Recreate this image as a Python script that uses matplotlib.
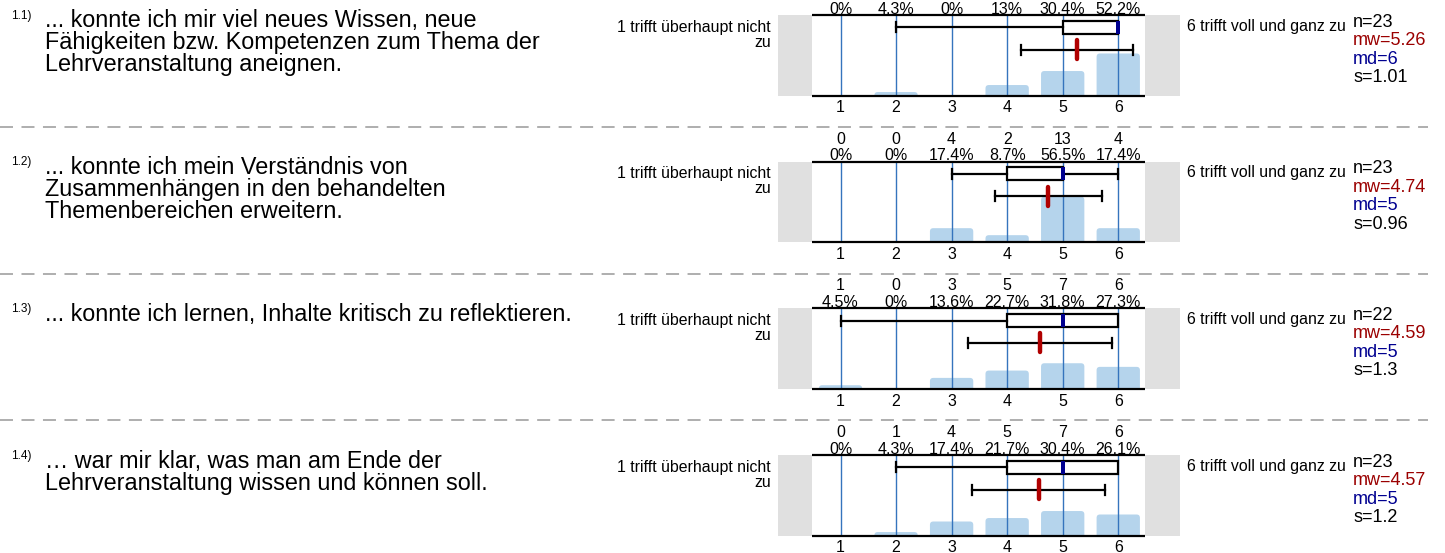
import matplotlib
matplotlib.use("Agg")
import matplotlib.pyplot as plt
from matplotlib.patches import FancyBboxPatch, Rectangle

plt.rcParams['font.family'] = ['Liberation Sans', 'DejaVu Sans']

# --- data ---
item_ids = ['1.1)', '1.2)', '1.3)', '1.4)']
questions = [
    ['... konnte ich mir viel neues Wissen, neue',
     'Fähigkeiten bzw. Kompetenzen zum Thema der',
     'Lehrveranstaltung aneignen.'],
    ['... konnte ich mein Verständnis von',
     'Zusammenhängen in den behandelten',
     'Themenbereichen erweitern.'],
    ['... konnte ich lernen, Inhalte kritisch zu reflektieren.'],
    ['… war mir klar, was man am Ende der',
     'Lehrveranstaltung wissen und können soll.'],
]
scale = [1, 2, 3, 4, 5, 6]
left_label = ['1 trifft überhaupt nicht', 'zu']
right_label = '6 trifft voll und ganz zu'

counts = [[0, 1, 0, 3, 7, 12],
          [0, 0, 4, 2, 13, 4],
          [1, 0, 3, 5, 7, 6],
          [0, 1, 4, 5, 7, 6]]
percents = [[0, 4.3, 0, 13, 30.4, 52.2],
            [0, 0, 17.4, 8.7, 56.5, 17.4],
            [4.5, 0, 13.6, 22.7, 31.8, 27.3],
            [0, 4.3, 17.4, 21.7, 30.4, 26.1]]
n_vals = [23, 23, 22, 23]
means = [5.26, 4.74, 4.59, 4.57]
medians = [6, 5, 5, 5]
sds = [1.01, 0.96, 1.3, 1.2]
# lower whisker, lower quartile, upper quartile, upper whisker
box_stats = [(2, 5, 6, 6), (3, 4, 5, 6), (1, 4, 6, 6), (2, 4, 6, 6)]

# --- layout (pixels) ---
W, H = 1445, 553
fig = plt.figure(figsize=(W / 100, H / 100), dpi=100)


def fx(x):
    return x / W


def fy(y):
    return 1 - y / H


x_one, x_step = 840.5, 55.55      # pixel of value 1, pixels per step
ax_l, ax_r = 778, 1180            # incl. grey end boxes
in_l, in_r = 812, 1145            # white plot area
ph = 80.5                         # panel height
tops = [15 + i * 146.67 for i in range(4)]


def val(px):
    return 1 + (px - x_one) / x_step


def yunits(px):
    return px / ph * 100


bar_col = '#b5d4ec'
grid_col = '#3574bd'
grey = '#e0e0e0'
dark_red = '#9b0000'
navy = '#000090'

for i, top in enumerate(tops):
    ax = fig.add_axes([fx(ax_l), fy(top + ph), (ax_r - ax_l) / W, ph / H])
    ax.set_xlim(val(ax_l), val(ax_r))
    ax.set_ylim(0, 100)
    ax.axis('off')
    lo, hi = val(in_l), val(in_r)
    ax.axvspan(val(ax_l), lo, color=grey, lw=0)
    ax.axvspan(hi, val(ax_r), color=grey, lw=0)

    # bars with rounded tops
    aspect = (100 / ph) * x_step
    for v, p in zip(scale, percents[i]):
        if p <= 0:
            continue
        ax.add_patch(FancyBboxPatch((v - 0.39, -10), 0.78, p + 10,
                                    boxstyle='round,pad=0,rounding_size=0.06',
                                    mutation_aspect=aspect, fc=bar_col, ec='none', zorder=1))
    ax.vlines(scale, 0, 100, color=grid_col, lw=1.0, zorder=2)
    ax.hlines([0, 100], lo, hi, color='black', lw=1.6, zorder=4, clip_on=False)

    # box plot
    wl, q1, q3, wh = box_stats[i]
    yb = 100 - yunits(12.3)
    half = yunits(6.5)
    cap = yunits(5)
    ax.add_patch(Rectangle((q1, yb - half), q3 - q1, 2 * half, fc='white', ec='black', lw=1.6, zorder=5))
    if wl < q1:
        ax.plot([wl, q1], [yb, yb], color='black', lw=1.6, zorder=5)
        ax.plot([wl, wl], [yb - cap, yb + cap], color='black', lw=1.6, zorder=5)
    if wh > q3:
        ax.plot([q3, wh], [yb, yb], color='black', lw=1.6, zorder=5)
        ax.plot([wh, wh], [yb - cap, yb + cap], color='black', lw=1.6, zorder=5)
    ax.add_patch(Rectangle((medians[i] - 0.036, yb - half), 0.072, 2 * half,
                           fc=navy, ec='none', zorder=6))

    # mean +- sd
    ym = 100 - yunits(34.5)
    m, s = means[i], sds[i]
    ax.plot([m - s, m + s], [ym, ym], color='black', lw=1.6, zorder=5)
    for e in (m - s, m + s):
        ax.plot([e, e], [ym - cap, ym + cap], color='black', lw=1.6, zorder=5)
    ax.plot([m, m], [ym - yunits(9.5), ym + yunits(9.5)], color='#b00000', lw=3.2,
            solid_capstyle='round', zorder=7)

    # labels above and below
    for v, p, c in zip(scale, percents[i], counts[i]):
        ax.annotate(f'{p:g}%', (v, 100), xytext=(0, 1.5), textcoords='offset pixels',
                    ha='center', va='baseline', fontsize=11.5, annotation_clip=False)
        if i > 0:
            ax.annotate(str(c), (v, 100), xytext=(0, 18), textcoords='offset pixels',
                        ha='center', va='baseline', fontsize=11.5, annotation_clip=False)
        ax.annotate(str(v), (v, 0), xytext=(0, -16.7), textcoords='offset pixels',
                    ha='center', va='baseline', fontsize=11.5, annotation_clip=False)

    # scale end labels
    fig.text(fx(771), fy(top + 16.7), left_label[0], ha='right', va='baseline', fontsize=11.4)
    fig.text(fx(771), fy(top + 31.7), left_label[1], ha='right', va='baseline', fontsize=11.4)
    fig.text(fx(1187), fy(top + 15.5), right_label, ha='left', va='baseline', fontsize=11.4)

    # statistics
    stats = [(f'n={n_vals[i]}', 'black'), (f'mw={means[i]:g}', dark_red),
             (f'md={medians[i]:g}', navy), (f's={sds[i]:g}', 'black')]
    for k, (txt, col) in enumerate(stats):
        fig.text(fx(1353), fy(top + 11.6 + 18.5 * k), txt, color=col,
                 ha='left', va='baseline', fontsize=13)

    # question text
    fig.text(fx(11), fy(top + 3.5), item_ids[i], ha='left', va='baseline', fontsize=8.5)
    for k, line in enumerate(questions[i]):
        fig.text(fx(45), fy(top + 12.5 + 22 * k), line, ha='left', va='baseline', fontsize=16.8)

    # dashed separator
    if i < 3:
        sep = top + 112
        fig.add_artist(plt.Line2D([0, fx(1428)], [fy(sep), fy(sep)], color='#a8a8a8', lw=1.3,
                                  linestyle=(0, (7.2, 4.7)), transform=fig.transFigure))

fig.savefig('out.png', dpi=100)
